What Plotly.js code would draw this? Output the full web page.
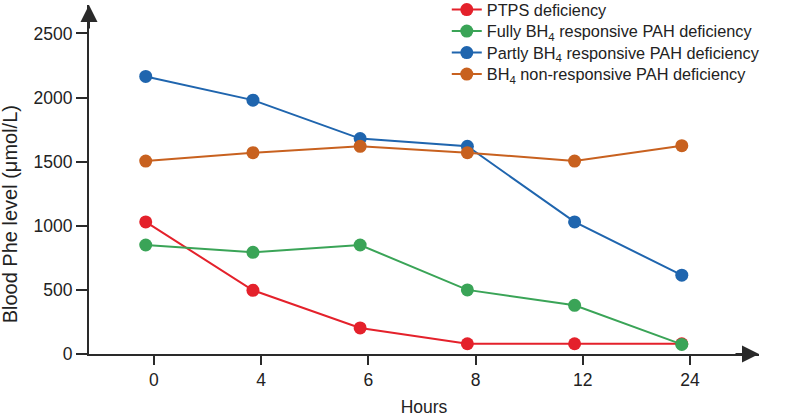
<!DOCTYPE html>
<html>
<head>
<meta charset="utf-8">
<script src="https://cdn.plot.ly/plotly-3.0.1.min.js"></script>
<style>html,body{margin:0;padding:0;background:#fff;}#chart{width:787px;height:417px;}</style>
</head>
<body>
<div id="chart"></div>
<script>
// Data
var hours = ["0", "4", "6", "8", "12", "24"];
var ptps = [1030, 497, 203, 80, 80, 80];
var fullyResponsive = [850, 793, 850, 500, 380, 75];
var partlyResponsive = [2165, 1980, 1680, 1620, 1030, 615];
var nonResponsive = [1505, 1570, 1620, 1570, 1505, 1625];
var seriesNames = [
  "PTPS deficiency",
  "Fully BH<sub>4</sub> responsive PAH deficiency",
  "Partly BH<sub>4</sub> responsive PAH deficiency",
  "BH<sub>4</sub> non-responsive PAH deficiency"
];
var yTicks = [0, 500, 1000, 1500, 2000, 2500];
var xTitle = "Hours";
var yTitle = "Blood Phe level (μmol/L)";

var colors = ["#e4212b", "#3aa457", "#1f65ae", "#c8611f"];
var xIdx = hours.map(function(h, i){ return i; });
var allSeries = [ptps, fullyResponsive, partlyResponsive, nonResponsive];
var legendIds = ["legend", "legend2", "legend3", "legend4"];
var legendY = [0.9857, 0.9241, 0.8625, 0.8009];

var traces = allSeries.map(function(vals, k){
  return {
    x: xIdx, y: vals, name: seriesNames[k], type: "scatter", mode: "lines+markers",
    line: {color: colors[k], width: 2},
    marker: {color: colors[k], size: 13},
    legend: legendIds[k],
    hoverinfo: "skip"
  };
});

var fam = "Liberation Sans, Arial, Helvetica, sans-serif";
var font = {family: fam, size: 17.5, color: "#222"};
var legendFont = {family: fam, size: 16.3, color: "#222"};
var axisColor = "#2a2a2a";

var layout = {
  width: 787, height: 417,
  margin: {l: 89, r: 28, t: 5, b: 63, autoexpand: false},
  paper_bgcolor: "#fff", plot_bgcolor: "#fff",
  font: font,
  showlegend: true,
  xaxis: {
    range: [-0.529, 5.72],
    tickmode: "array",
    tickvals: xIdx.map(function(i){ return i + 0.077; }),
    ticktext: hours,
    ticks: "outside", ticklen: 9, tickwidth: 2, tickcolor: axisColor,
    showline: true, linecolor: axisColor, linewidth: 2,
    showgrid: false, zeroline: false,
    tickfont: font,
    title: {text: xTitle, font: font, standoff: 15}
  },
  yaxis: {
    range: [0, 2722],
    tickmode: "array", tickvals: yTicks,
    ticks: "outside", ticklen: 11, tickwidth: 2, tickcolor: axisColor,
    showline: true, linecolor: axisColor, linewidth: 2,
    showgrid: false, zeroline: false,
    tickfont: font
  },
  annotations: [
    {xref: "paper", yref: "paper", x: -0.118, y: 0.40, xanchor: "center", yanchor: "middle",
     text: yTitle, textangle: -90, showarrow: false, font: {family: fam, size: 20, color: "#222"}},
    {xref: "paper", yref: "paper", x: 0, y: 1, ax: 0, ay: 25, axref: "pixel", ayref: "pixel",
     text: "", showarrow: true, arrowhead: 2, arrowsize: 1.7, arrowwidth: 2, arrowcolor: axisColor},
    {xref: "paper", yref: "paper", x: 1, y: 0, ax: -25, ay: 0, axref: "pixel", ayref: "pixel",
     text: "", showarrow: true, arrowhead: 2, arrowsize: 1.7, arrowwidth: 2, arrowcolor: axisColor}
  ]
};
legendIds.forEach(function(id, k){
  layout[id] = {x: 0.534, y: legendY[k], xanchor: "left", yanchor: "middle",
                bgcolor: "rgba(0,0,0,0)", font: legendFont, itemwidth: 30};
});

Plotly.newPlot("chart", traces, layout, {displayModeBar: false, staticPlot: true});
</script>
</body>
</html>
